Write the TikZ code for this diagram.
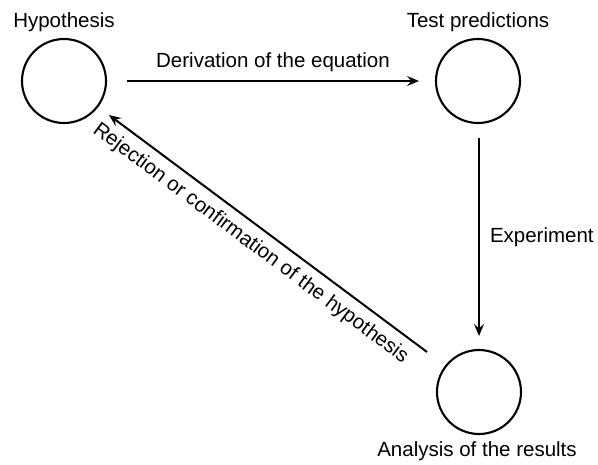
\documentclass[tikz,border=0pt]{standalone}
\usepackage{fontspec}
\setmainfont{Liberation Sans}
\usetikzlibrary{arrows.meta}
\begin{document}
\begin{tikzpicture}[x=1pt,y=-1pt,
  stage/.style={draw, circle, line width=2.1pt, minimum size=84pt, inner sep=0pt},
  lbl/.style={font=\fontsize{20.5}{24}\selectfont, inner sep=0pt},
  conn/.style={line width=2pt, -{Stealth[length=12pt,width=10pt,inset=4.5pt]}}]
\useasboundingbox (0,0) rectangle (598,464);
\node[stage] (H) at (64,81) {};
\node[stage] (T) at (478,81) {};
\node[stage] (A) at (479,392) {};
\node[lbl] (Hl) at (64,22) {Hypothesis};
\node[lbl] (Tl) at (478,22) {Test predictions};
\node[lbl] (Al) at (477,451) {Analysis of the results};
\coordinate (d1) at (127,81);
\coordinate (d2) at (419,81);
\coordinate (v1) at (479,138);
\coordinate (v2) at (479,336);
\coordinate (r1) at (427,352);
\coordinate (r2) at (109,115);
\draw[conn] (d1) -- node[lbl, above=8pt] (dl) {Derivation of the equation} (d2);
\draw[conn] (v1) -- node[lbl, right=10pt] (el) {Experiment} (v2);
\draw[conn] (r1) -- node[lbl, sloped, below=8pt, pos=0.52] (rl) {Rejection or confirmation of the hypothesis} (r2);
\end{tikzpicture}
\end{document}
